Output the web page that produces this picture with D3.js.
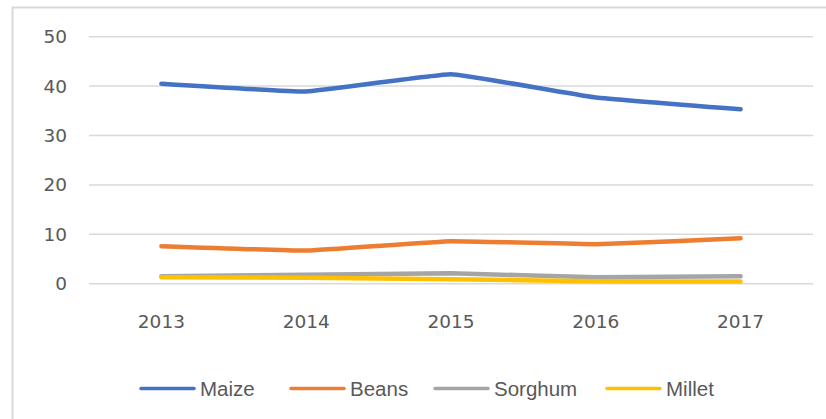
<!DOCTYPE html>
<html>
<head>
<meta charset="utf-8">
<script src="https://cdn.jsdelivr.net/npm/d3@7"></script>
<style>
  html, body { margin: 0; padding: 0; background: #fff; }
  svg { display: block; }
</style>
</head>
<body>
<script>
const years = ["2013", "2014", "2015", "2016", "2017"];
const maize = [40.5, 38.9, 42.4, 37.7, 35.3];
const beans = [7.6, 6.7, 8.6, 8.0, 9.2];
const sorghum = [1.5, 1.8, 2.1, 1.3, 1.5];
const millet = [1.3, 1.2, 0.9, 0.5, 0.45];
const seriesNames = ["Maize", "Beans", "Sorghum", "Millet"];
const seriesColors = ["#4472C4", "#ED7D31", "#A5A5A5", "#FFC000"];
const yTicks = [0, 10, 20, 30, 40, 50];

const series = [maize, beans, sorghum, millet].map((v, i) => ({
  name: seriesNames[i], color: seriesColors[i], values: v
}));

const W = 826, H = 419;
const svg = d3.select("body").append("svg").attr("width", W).attr("height", H);

// outer frame
svg.append("rect")
  .attr("x", 12.5).attr("y", 7.5)
  .attr("width", 830).attr("height", 430)
  .attr("fill", "none").attr("stroke", "#d9d9d9").attr("stroke-width", 2);

const x = d3.scaleBand().domain(years).range([89, 813]);
const y = d3.scaleLinear().domain([0, 50]).range([283.7, 36.7]);

// gridlines
svg.append("g").selectAll("line").data(yTicks).join("line")
  .attr("x1", 89).attr("x2", 813)
  .attr("y1", d => y(d)).attr("y2", d => y(d))
  .attr("stroke", "#d9d9d9").attr("stroke-width", 1.5);

// y axis labels
const yAxis = d3.axisLeft(y).tickValues(yTicks).tickSize(0).tickPadding(0);
const gy = svg.append("g").attr("transform", "translate(67,0)").call(yAxis);
gy.select(".domain").remove();
gy.selectAll("text")
  .attr("font-family", "DejaVu Sans, sans-serif")
  .attr("font-size", 18.5).attr("fill", "#595959");

// x axis labels
const xAxis = d3.axisBottom(x).tickSize(0).tickPadding(0);
const gx = svg.append("g").attr("transform", "translate(0,315)").call(xAxis);
gx.select(".domain").remove();
gx.selectAll("text")
  .attr("font-family", "DejaVu Sans, sans-serif")
  .attr("font-size", 18.5).attr("fill", "#595959");

// lines
const line = d3.line()
  .x((d, i) => x(years[i]) + x.bandwidth() / 2)
  .y(d => y(d))
  .curve(d3.curveCardinal.tension(0.75));

svg.append("g").selectAll("path").data(series).join("path")
  .attr("d", d => line(d.values))
  .attr("fill", "none")
  .attr("stroke", d => d.color)
  .attr("stroke-width", 4.5)
  .attr("stroke-linecap", "round")
  .attr("stroke-linejoin", "round");

// legend
const legendX = [141, 291, 435, 607];
const lg = svg.append("g").selectAll("g").data(series).join("g")
  .attr("transform", (d, i) => `translate(${legendX[i]},388.5)`);
lg.append("line")
  .attr("x1", 0).attr("x2", 53).attr("y1", 0).attr("y2", 0)
  .attr("stroke", d => d.color).attr("stroke-width", 3.5)
  .attr("stroke-linecap", "round");
lg.append("text")
  .attr("x", 59).attr("y", 0).attr("dy", "0.35em")
  .attr("font-family", "Liberation Sans, Arial, sans-serif")
  .attr("font-size", 20.5).attr("fill", "#595959")
  .text(d => d.name);
</script>
</body>
</html>
